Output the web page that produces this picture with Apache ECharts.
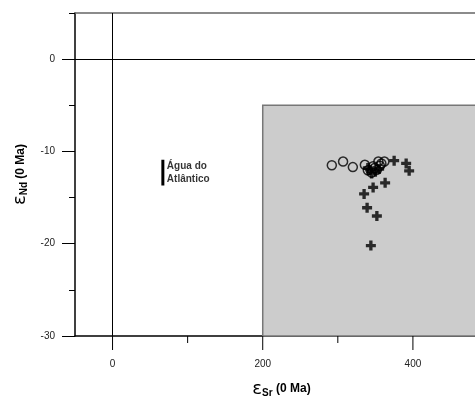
<!DOCTYPE html>
<html>
<head>
<meta charset="utf-8">
<script src="https://cdn.jsdelivr.net/npm/echarts@6/dist/echarts.min.js"></script>
<style>
    html, body { margin: 0; padding: 0; background: #fff; }
    #chart { width: 475px; height: 396px; }
</style>
</head>
<body>
<div id="chart"></div>
<script>
// εSr / εNd (0 Ma)
const circles = [
    [292, -11.5], [307, -11.1], [320, -11.7], [336, -11.45], [340, -12.05],
    [345, -12.3], [347, -11.6], [349, -11.8], [352, -12.0], [354, -11.1],
    [356, -11.55], [358, -11.3], [362, -11.1]
];
const crosses = [
    [375, -11.0], [391, -11.3], [395, -12.1], [363, -13.4], [347, -13.9],
    [335, -14.6], [339, -16.1], [352, -17.0], [344, -20.2], [345, -12.4],
    [343, -12.0], [350, -12.2], [355, -11.9], [340, -11.8]
];
const atlanticBar = [[67, -10.9], [67, -13.7]];
const atlanticLabel = [[67, -12.3]];
const grayBox = [[200, -30], [500, -5]];

const xMin = -50, xMax = 500;
const yMin = -30, yMax = 5;
const xMajor = [0, 200, 400];
const xMinor = [100, 300];
const yMajor = [-30, -20, -10, 0];
const yMinor = [-25, -15, -5, 5];

const font = 'Liberation Sans, Arial, sans-serif';
const crossPath = 'path://M3,0h3v3h3v3h-3v3h-3v-3h-3v-3h3z';

const titleRich = {
    e: { fontSize: 18, fontFamily: 'DejaVu Sans', color: '#000', verticalAlign: 'bottom' },
    s: { fontSize: 10, fontWeight: 'bold', fontFamily: font, color: '#000', verticalAlign: 'bottom' },
    b: { fontSize: 12, fontWeight: 'bold', fontFamily: font, color: '#000', verticalAlign: 'bottom', padding: [0, 0, 3, 0] }
};

const myChart = echarts.init(document.getElementById('chart'));
const option = {
    animation: false,
    grid: { left: 75, top: 13, width: 413, height: 323, outerBoundsMode: 'none', containLabel: false },
    xAxis: [
        {
            type: 'value', min: xMin, max: xMax, position: 'bottom',
            axisLine: { show: true, onZero: false, lineStyle: { color: '#000', width: 1.5 } },
            axisTick: { show: false },
            axisLabel: { customValues: xMajor, margin: 23, fontSize: 10, color: '#222', fontFamily: font },
            splitLine: { show: false },
            name: '{e|ε}{s|Sr}{b| (0 Ma)}',
            nameLocation: 'middle',
            nameGap: 44,
            nameTextStyle: { rich: titleRich }
        },
        {
            type: 'value', min: xMin, max: xMax, position: 'top', offset: 0,
            axisLine: { show: true, onZero: false, lineStyle: { color: '#666', width: 1.5 } },
            axisTick: { show: false },
            axisLabel: { show: false },
            splitLine: { show: false }
        }
    ],
    yAxis: [
        {
            type: 'value', min: yMin, max: yMax, position: 'left',
            axisLine: { show: true, onZero: false, lineStyle: { color: '#000', width: 1.5 } },
            axisTick: { show: true, customValues: yMajor, length: 13, lineStyle: { color: '#000' } },
            axisLabel: { customValues: yMajor, margin: 20, fontSize: 10, color: '#222', fontFamily: font },
            splitLine: { show: false },
            name: '{e|ε}{s|Nd}{b| (0 Ma)}',
            nameLocation: 'middle',
            nameRotate: 90,
            nameGap: 44,
            nameTextStyle: { rich: titleRich }
        },
        {
            type: 'value', min: yMin, max: yMax, position: 'left', offset: 0,
            axisLine: { show: false, onZero: false },
            axisTick: { show: true, customValues: yMinor, length: 6, lineStyle: { color: '#000' } },
            axisLabel: { show: false },
            splitLine: { show: false }
        }
    ],
    series: [
        {
            // caixa cinza + linhas de zero
            type: 'line',
            data: [],
            markArea: {
                silent: true,
                itemStyle: { color: '#cccccc', borderColor: '#777', borderWidth: 1.5 },
                data: [[{ coord: grayBox[0] }, { coord: grayBox[1] }]]
            },
            markLine: {
                silent: true,
                symbol: 'none',
                label: { show: false },
                lineStyle: { color: '#000', width: 1, type: 'solid' },
                data: [{ xAxis: 0 }, { yAxis: 0 }]
            }
        },
        {
            // marcas do eixo x (maiores e menores)
            type: 'custom',
            clip: false,
            silent: true,
            data: xMajor.concat(xMinor).map((v) => [v, yMin]),
            renderItem: (params, api) => {
                const p = api.coord([api.value(0), api.value(1)]);
                const len = xMajor.includes(api.value(0)) ? 14 : 7;
                return {
                    type: 'line',
                    shape: { x1: p[0], y1: p[1], x2: p[0], y2: p[1] + len },
                    style: { stroke: '#000', lineWidth: 1 }
                };
            }
        },
        {
            type: 'line',
            data: atlanticBar,
            symbol: 'none',
            lineStyle: { color: '#000', width: 3 },
            z: 3
        },
        {
            type: 'scatter',
            data: atlanticLabel,
            symbolSize: 0,
            label: {
                show: true,
                position: 'right',
                distance: 4,
                formatter: 'Água do\nAtlântico',
                fontSize: 10,
                fontWeight: 'bold',
                lineHeight: 13,
                color: '#000',
                fontFamily: font
            }
        },
        {
            type: 'scatter',
            data: circles,
            symbol: 'circle',
            symbolSize: 9,
            itemStyle: { color: 'transparent', borderColor: '#000', borderWidth: 1.5 },
            z: 4
        },
        {
            type: 'scatter',
            data: crosses,
            symbol: crossPath,
            symbolSize: 10,
            itemStyle: { color: '#000' },
            z: 5
        }
    ]
};
myChart.setOption(option);
</script>
</body>
</html>
